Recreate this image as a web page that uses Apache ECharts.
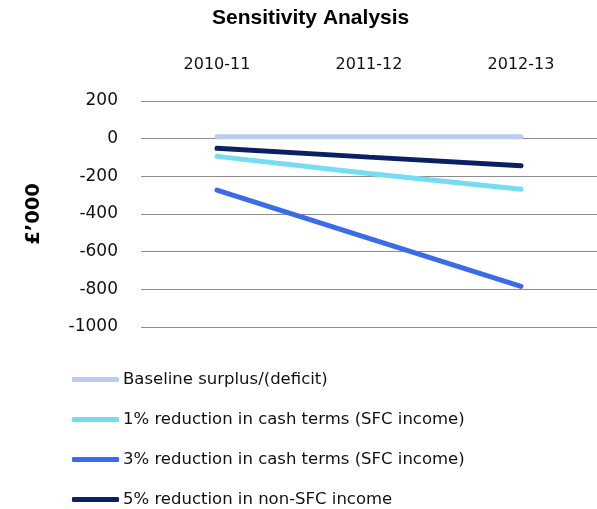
<!DOCTYPE html>
<html><head><meta charset="utf-8">
<script src="https://cdn.jsdelivr.net/npm/echarts@6/dist/echarts.min.js"></script>
<style>html,body{margin:0;padding:0;background:#fff}#c{width:597px;height:509px}</style>
</head><body><div id="c"></div>
<script>
const categories = ['2010-11', '2011-12', '2012-13'];
const yTicks = { min: -1000, max: 200, interval: 200 };
const seriesNames = [
  'Baseline surplus/(deficit)',
  '1% reduction in cash terms (SFC income)',
  '3% reduction in cash terms (SFC income)',
  '5% reduction in non-SFC income'
];
const baseline = [10, 10, 10];
const cut1 = [-94, -185, -269];
const cut3 = [-273, -530, -784];
const nonSfc5 = [-51, -98, -144];
const colors = ['#BCCBF3', '#74DDF3', '#3A6BEA', '#0A2060'];
const values = [baseline, cut1, cut3, nonSfc5];
const font = 'DejaVu Sans, sans-serif';

const chart = echarts.init(document.getElementById('c'));
chart.setOption({
  animation: false,
  textStyle: { fontFamily: font },
  title: {
    text: 'Sensitivity Analysis', left: 212, top: 8, padding: 0,
    textStyle: { fontSize: 21, fontWeight: 'bold', color: '#000', fontFamily: 'Liberation Sans, Arial, sans-serif' }
  },
  legend: {
    orient: 'vertical', left: 72, top: 371, itemGap: 23, padding: 0,
    itemWidth: 47, itemHeight: 5, icon: 'roundRect',
    textStyle: { fontSize: 16.5, color: '#111', fontFamily: font, padding: [0, 0, 0, -1] },
    data: seriesNames
  },
  grid: { left: 141, right: 0, top: 101, bottom: 182 },
  xAxis: {
    type: 'category', position: 'top', data: categories,
    axisLine: { show: false }, axisTick: { show: false },
    axisLabel: { fontSize: 16, color: '#111', margin: 28 }
  },
  yAxis: {
    type: 'value', min: yTicks.min, max: yTicks.max, interval: yTicks.interval,
    name: '£\u2019000', nameLocation: 'middle', nameGap: 97, nameRotate: 90,
    nameTextStyle: { fontSize: 19.5, fontWeight: 'bold', color: '#000' },
    axisLine: { show: false }, axisTick: { show: false },
    axisLabel: { fontSize: 17, color: '#111', margin: 23, formatter: v => String(v) },
    splitLine: { lineStyle: { color: '#8c8c8c', width: 1 } }
  },
  series: seriesNames.map((n, i) => ({
    name: n, type: 'line', data: values[i], symbol: 'none',
    color: colors[i],
    lineStyle: { width: 5, color: colors[i], cap: 'round' }
  }))
});
</script></body></html>
